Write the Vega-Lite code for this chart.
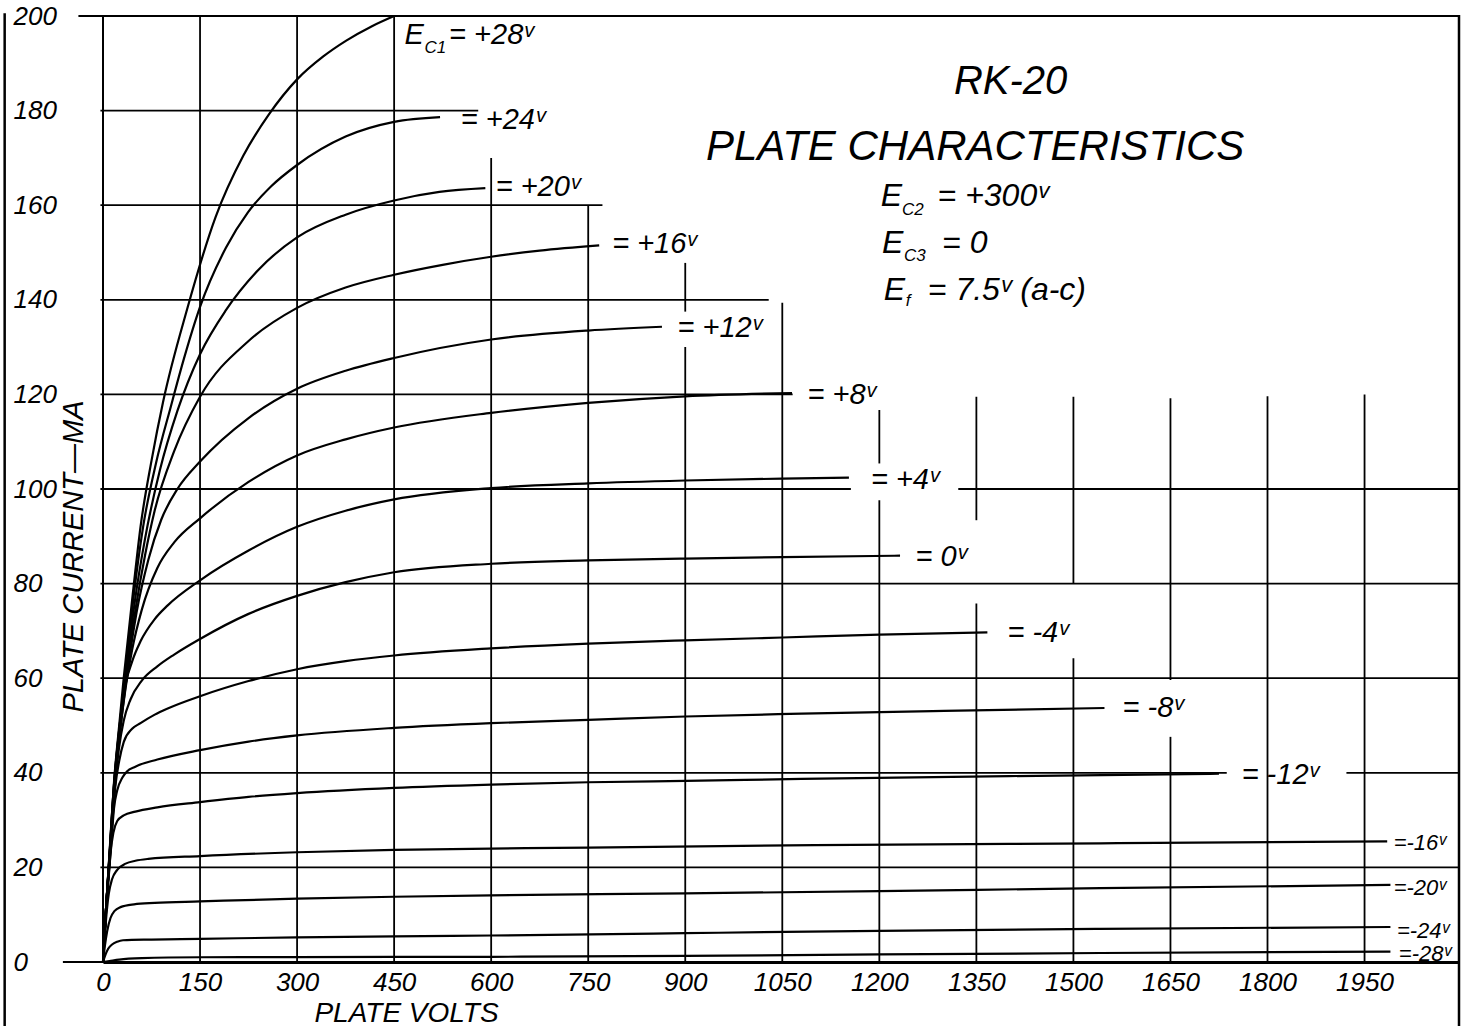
{
"$schema": "https://vega.github.io/schema/vega-lite/v6.json",
"width": 1356, "height": 946,
"autosize": {"type": "none"},
"padding": {"left": 103, "top": 16, "right": 9, "bottom": 64},
"background": "white",
"config": {"view": {"stroke": "black", "strokeWidth": 2}, "font": "Liberation Sans"},
"datasets": {
"hgrid": [
{"i":200,"v":-38,"v2":2096},{"i":180,"v":-4,"v2":580},{"i":160,"v":-4,"v2":772},{"i":140,"v":-4,"v2":1029},
{"i":120,"v":-4,"v2":1066},{"i":100,"v":-4,"v2":1156},{"i":100,"v":1322,"v2":2096},{"i":80,"v":-4,"v2":2096},
{"i":60,"v":-4,"v2":2096},{"i":40,"v":-4,"v2":1737},{"i":40,"v":1922,"v2":2096},{"i":20,"v":-4,"v2":2096},{"i":0,"v":-62,"v2":2096}
],
"vgrid": [
{"v":0,"i":0,"i2":200},{"v":150,"i":0,"i2":200},{"v":300,"i":0,"i2":200},{"v":450,"i":0,"i2":200},
{"v":600,"i":0,"i2":170},{"v":750,"i":0,"i2":160},{"v":900,"i":0,"i2":130},{"v":900,"i":137.5,"i2":147.8},
{"v":1050,"i":0,"i2":139.4},{"v":1200,"i":0,"i2":97.6},{"v":1200,"i":105.4,"i2":116.7},
{"v":1350,"i":0,"i2":75.8},{"v":1350,"i":93.4,"i2":119.5},{"v":1500,"i":0,"i2":64.2},{"v":1500,"i":80,"i2":119.5},
{"v":1650,"i":0,"i2":47.6},{"v":1650,"i":59.6,"i2":119.2},{"v":1800,"i":0,"i2":119.6},{"v":1950,"i":0,"i2":120}
],
"frame": [
{"v":-152,"i":200.6,"i2":-13.8},{"v":2096,"i":200.2,"i2":-13.8}
],
"curves": [
{"g":"+28","v":0,"i":0},{"g":"+28","v":5,"i":12},{"g":"+28","v":10,"i":23},{"g":"+28","v":17,"i":38},{"g":"+28","v":25,"i":50},{"g":"+28","v":32,"i":60},{"g":"+28","v":47,"i":79},{"g":"+28","v":58,"i":92},{"g":"+28","v":75,"i":106},{"g":"+28","v":93,"i":118.5},{"g":"+28","v":130,"i":138},{"g":"+28","v":174,"i":157.5},{"g":"+28","v":217,"i":170.5},{"g":"+28","v":257,"i":179.3},{"g":"+28","v":300,"i":186.6},{"g":"+28","v":340,"i":191.4},{"g":"+28","v":376,"i":194.8},{"g":"+28","v":415,"i":197.8},{"g":"+28","v":450,"i":200},
{"g":"+24","v":0,"i":0},{"g":"+24","v":5,"i":12},{"g":"+24","v":10,"i":22.5},{"g":"+24","v":17,"i":37.5},{"g":"+24","v":25,"i":49},{"g":"+24","v":33,"i":59},{"g":"+24","v":48,"i":78},{"g":"+24","v":62,"i":92},{"g":"+24","v":82,"i":105.5},{"g":"+24","v":105,"i":117.5},{"g":"+24","v":125,"i":127.5},{"g":"+24","v":150,"i":138.5},{"g":"+24","v":190,"i":151},{"g":"+24","v":224,"i":158.5},{"g":"+24","v":260,"i":164},{"g":"+24","v":300,"i":168.5},{"g":"+24","v":375,"i":174.5},{"g":"+24","v":450,"i":177.6},{"g":"+24","v":521,"i":178.6},
{"g":"+20","v":0,"i":0},{"g":"+20","v":5,"i":12},{"g":"+20","v":10,"i":22.5},{"g":"+20","v":17,"i":37.5},{"g":"+20","v":25,"i":49},{"g":"+20","v":34,"i":59.5},{"g":"+20","v":50,"i":77},{"g":"+20","v":65,"i":89.5},{"g":"+20","v":88,"i":104},{"g":"+20","v":115,"i":116.5},{"g":"+20","v":150,"i":128.5},{"g":"+20","v":190,"i":137.8},{"g":"+20","v":240,"i":146.3},{"g":"+20","v":300,"i":153.2},{"g":"+20","v":375,"i":158},{"g":"+20","v":450,"i":161},{"g":"+20","v":520,"i":162.8},{"g":"+20","v":591,"i":163.6},
{"g":"+16","v":0,"i":0},{"g":"+16","v":5,"i":12},{"g":"+16","v":10,"i":22},{"g":"+16","v":17,"i":37},{"g":"+16","v":26,"i":49.5},{"g":"+16","v":35,"i":59.5},{"g":"+16","v":52,"i":76},{"g":"+16","v":65,"i":86},{"g":"+16","v":80,"i":95.5},{"g":"+16","v":110,"i":108},{"g":"+16","v":150,"i":119.5},{"g":"+16","v":225,"i":131.3},{"g":"+16","v":300,"i":138.3},{"g":"+16","v":375,"i":142.6},{"g":"+16","v":450,"i":145.3},{"g":"+16","v":525,"i":147.4},{"g":"+16","v":600,"i":149.1},{"g":"+16","v":675,"i":150.4},{"g":"+16","v":767,"i":151.5},
{"g":"+12","v":0,"i":0},{"g":"+12","v":5,"i":12},{"g":"+12","v":10,"i":22},{"g":"+12","v":17,"i":36.5},{"g":"+12","v":26,"i":48.5},{"g":"+12","v":35,"i":58.5},{"g":"+12","v":52,"i":74},{"g":"+12","v":70,"i":85},{"g":"+12","v":90,"i":93.5},{"g":"+12","v":115,"i":100},{"g":"+12","v":150,"i":105.8},{"g":"+12","v":225,"i":115},{"g":"+12","v":300,"i":121.2},{"g":"+12","v":375,"i":125},{"g":"+12","v":450,"i":127.7},{"g":"+12","v":600,"i":131.6},{"g":"+12","v":750,"i":133.5},{"g":"+12","v":864,"i":134.3},
{"g":"+8","v":0,"i":0},{"g":"+8","v":5,"i":12},{"g":"+8","v":10,"i":22},{"g":"+8","v":18,"i":37.5},{"g":"+8","v":27,"i":49.5},{"g":"+8","v":35,"i":58},{"g":"+8","v":45,"i":66},{"g":"+8","v":60,"i":74.5},{"g":"+8","v":84,"i":83.3},{"g":"+8","v":110,"i":88.7},{"g":"+8","v":150,"i":93.8},{"g":"+8","v":225,"i":101.5},{"g":"+8","v":300,"i":107.1},{"g":"+8","v":375,"i":110.5},{"g":"+8","v":450,"i":113},{"g":"+8","v":600,"i":116.1},{"g":"+8","v":750,"i":118.2},{"g":"+8","v":900,"i":119.6},{"g":"+8","v":1065,"i":120.3},
{"g":"+4","v":0,"i":0},{"g":"+4","v":5,"i":12},{"g":"+4","v":10,"i":21.5},{"g":"+4","v":18,"i":36.5},{"g":"+4","v":25,"i":48},{"g":"+4","v":32,"i":56.5},{"g":"+4","v":45,"i":63.5},{"g":"+4","v":58,"i":67.8},{"g":"+4","v":80,"i":72.5},{"g":"+4","v":100,"i":75.4},{"g":"+4","v":150,"i":80.7},{"g":"+4","v":225,"i":87},{"g":"+4","v":300,"i":92},{"g":"+4","v":375,"i":95.4},{"g":"+4","v":450,"i":97.8},{"g":"+4","v":600,"i":100.2},{"g":"+4","v":750,"i":101.2},{"g":"+4","v":900,"i":101.8},{"g":"+4","v":1050,"i":102.2},{"g":"+4","v":1153,"i":102.4},
{"g":"0","v":0,"i":0},{"g":"0","v":5,"i":12},{"g":"0","v":10,"i":21.5},{"g":"0","v":17,"i":35},{"g":"0","v":24.5,"i":45},{"g":"0","v":32,"i":51},{"g":"0","v":42.5,"i":55.5},{"g":"0","v":60,"i":59.5},{"g":"0","v":84,"i":62.5},{"g":"0","v":110,"i":65},{"g":"0","v":150,"i":68.3},{"g":"0","v":225,"i":73.6},{"g":"0","v":300,"i":77.4},{"g":"0","v":375,"i":80.3},{"g":"0","v":450,"i":82.4},{"g":"0","v":600,"i":84.2},{"g":"0","v":750,"i":84.9},{"g":"0","v":900,"i":85.3},{"g":"0","v":1050,"i":85.6},{"g":"0","v":1232,"i":85.9},
{"g":"-4","v":0,"i":0},{"g":"-4","v":5,"i":12},{"g":"-4","v":10,"i":21},{"g":"-4","v":15,"i":30.5},{"g":"-4","v":19,"i":37},{"g":"-4","v":25,"i":42.5},{"g":"-4","v":32,"i":46.5},{"g":"-4","v":45,"i":49.3},{"g":"-4","v":58,"i":50.5},{"g":"-4","v":80,"i":52.3},{"g":"-4","v":100,"i":53.6},{"g":"-4","v":150,"i":56.2},{"g":"-4","v":225,"i":59.4},{"g":"-4","v":300,"i":61.9},{"g":"-4","v":375,"i":63.6},{"g":"-4","v":450,"i":64.8},{"g":"-4","v":600,"i":66.3},{"g":"-4","v":750,"i":67.3},{"g":"-4","v":900,"i":68},{"g":"-4","v":1050,"i":68.6},{"g":"-4","v":1200,"i":69.2},{"g":"-4","v":1367,"i":69.7},
{"g":"-8","v":0,"i":0},{"g":"-8","v":5,"i":11.5},{"g":"-8","v":10,"i":20},{"g":"-8","v":14,"i":27.5},{"g":"-8","v":17,"i":32.5},{"g":"-8","v":22,"i":36.3},{"g":"-8","v":30,"i":39},{"g":"-8","v":37,"i":40.3},{"g":"-8","v":50,"i":41.3},{"g":"-8","v":84,"i":42.8},{"g":"-8","v":150,"i":44.8},{"g":"-8","v":225,"i":46.6},{"g":"-8","v":300,"i":47.9},{"g":"-8","v":450,"i":49.5},{"g":"-8","v":600,"i":50.5},{"g":"-8","v":750,"i":51.2},{"g":"-8","v":900,"i":51.9},{"g":"-8","v":1080,"i":52.5},{"g":"-8","v":1300,"i":53.1},{"g":"-8","v":1548,"i":53.7},
{"g":"-12","v":0,"i":0},{"g":"-12","v":4,"i":9},{"g":"-12","v":8,"i":17},{"g":"-12","v":12,"i":23.5},{"g":"-12","v":16,"i":27.3},{"g":"-12","v":22,"i":29.8},{"g":"-12","v":32,"i":31},{"g":"-12","v":50,"i":31.8},{"g":"-12","v":84,"i":32.7},{"g":"-12","v":150,"i":33.8},{"g":"-12","v":225,"i":34.9},{"g":"-12","v":300,"i":35.7},{"g":"-12","v":450,"i":36.8},{"g":"-12","v":600,"i":37.5},{"g":"-12","v":750,"i":38},{"g":"-12","v":900,"i":38.3},{"g":"-12","v":1080,"i":38.7},{"g":"-12","v":1400,"i":39.3},{"g":"-12","v":1725,"i":39.8},
{"g":"-16","v":0,"i":0},{"g":"-16","v":3,"i":6},{"g":"-16","v":6,"i":11},{"g":"-16","v":9,"i":14.5},{"g":"-16","v":14,"i":17.5},{"g":"-16","v":22,"i":19.5},{"g":"-16","v":35,"i":20.8},{"g":"-16","v":50,"i":21.4},{"g":"-16","v":70,"i":21.8},{"g":"-16","v":150,"i":22.4},{"g":"-16","v":300,"i":23.2},{"g":"-16","v":450,"i":23.7},{"g":"-16","v":750,"i":24.2},{"g":"-16","v":1100,"i":24.7},{"g":"-16","v":1542,"i":25.1},{"g":"-16","v":1985,"i":25.5},
{"g":"-20","v":0,"i":0},{"g":"-20","v":3,"i":3.5},{"g":"-20","v":6.4,"i":6.5},{"g":"-20","v":11.6,"i":9.3},{"g":"-20","v":18,"i":10.8},{"g":"-20","v":27,"i":11.6},{"g":"-20","v":48,"i":12.2},{"g":"-20","v":80,"i":12.5},{"g":"-20","v":150,"i":12.8},{"g":"-20","v":300,"i":13.4},{"g":"-20","v":450,"i":13.8},{"g":"-20","v":600,"i":14.1},{"g":"-20","v":900,"i":14.5},{"g":"-20","v":1200,"i":15},{"g":"-20","v":1542,"i":15.6},{"g":"-20","v":1990,"i":16.3},
{"g":"-24","v":0,"i":0},{"g":"-24","v":4,"i":1.6},{"g":"-24","v":8,"i":2.8},{"g":"-24","v":14,"i":3.7},{"g":"-24","v":22,"i":4.3},{"g":"-24","v":31,"i":4.6},{"g":"-24","v":75,"i":4.75},{"g":"-24","v":150,"i":4.9},{"g":"-24","v":300,"i":5.2},{"g":"-24","v":450,"i":5.4},{"g":"-24","v":600,"i":5.6},{"g":"-24","v":900,"i":6.1},{"g":"-24","v":1200,"i":6.6},{"g":"-24","v":1542,"i":7},{"g":"-24","v":1990,"i":7.4},
{"g":"-28","v":0,"i":0},{"g":"-28","v":10,"i":0.2},{"g":"-28","v":25,"i":0.5},{"g":"-28","v":60,"i":0.8},{"g":"-28","v":150,"i":1},{"g":"-28","v":300,"i":1.05},{"g":"-28","v":600,"i":1.1},{"g":"-28","v":900,"i":1.3},{"g":"-28","v":1200,"i":1.6},{"g":"-28","v":1542,"i":1.9},{"g":"-28","v":1990,"i":2.2}
],
"lab": [
{"v":535,"i":196,"t":"= +28ᵛ"},{"v":553,"i":178.1,"t":"= +24ᵛ"},{"v":607,"i":163.9,"t":"= +20ᵛ"},
{"v":787,"i":151.9,"t":"= +16ᵛ"},{"v":888,"i":134,"t":"= +12ᵛ"},{"v":1089,"i":119.8,"t":"= +8ᵛ"},
{"v":1187,"i":101.9,"t":"= +4ᵛ"},{"v":1256,"i":85.7,"t":"= 0ᵛ"},{"v":1398,"i":69.5,"t":"= -4ᵛ"},
{"v":1576,"i":53.7,"t":"= -8ᵛ"},{"v":1760,"i":39.5,"t":"= -12ᵛ"},{"v":466,"i":196,"t":"E"}
],
"labsmall": [
{"v":1995,"i":25.2,"t":"=-16ᵛ"},{"v":1995,"i":15.6,"t":"=-20ᵛ"},{"v":2000,"i":6.6,"t":"=-24ᵛ"},{"v":2003,"i":1.7,"t":"=-28ᵛ"}
],
"subs": [
{"v":497,"i":193.3,"t":"C1"},{"v":1235,"i":159,"t":"C2"},{"v":1238,"i":149.3,"t":"C3"},{"v":1241,"i":139.7,"t":"f"}
],
"params": [
{"v":1202,"i":162,"t":"E"},{"v":1290,"i":162,"t":"= +300ᵛ"},
{"v":1204,"i":152,"t":"E"},{"v":1297,"i":152,"t":"= 0"},
{"v":1207,"i":142.1,"t":"E"},{"v":1275,"i":142.1,"t":"= 7.5ᵛ (a-c)"}
],
"titles": [
{"v":1403,"i":186.1,"t":"RK-20","s":"a"},{"v":1348,"i":172.3,"t":"PLATE CHARACTERISTICS","s":"b"}
]
},
"encoding": {
  "x": {"field": "v", "type": "quantitative", "scale": {"domain": [0, 2096], "nice": false, "zero": false},
        "axis": {"values": [0,150,300,450,600,750,900,1050,1200,1350,1500,1650,1800,1950], "format": "d", "grid": false,
                 "domain": true, "domainColor": "black", "domainWidth": 3, "ticks": false, "labelPadding": 7,
                 "labelFont": "Liberation Sans", "labelFontStyle": "italic", "labelFontSize": 26, "labelColor": "black",
                 "labelOverlap": false, "labelFlush": false,
                 "title": "PLATE VOLTS", "titleFont": "Liberation Sans", "titleFontStyle": "italic",
                 "titleFontWeight": "normal", "titleFontSize": 28, "titleColor": "black",
                 "titleX": 303, "titleY": 51, "titleAlign": "center", "titleBaseline": "middle"}},
  "y": {"field": "i", "type": "quantitative", "scale": {"domain": [0, 200], "nice": false, "zero": false},
        "axis": {"values": [0,20,40,60,80,100,120,140,160,180,200], "format": "d", "grid": false, "domain": false, "ticks": false,
                 "labelAlign": "left", "labelBaseline": "middle", "labelPadding": 90, "labelFont": "Liberation Sans",
                 "labelFontStyle": "italic", "labelFontSize": 26, "labelColor": "black",
                 "title": "PLATE CURRENT—MA", "titleFont": "Liberation Sans", "titleFontStyle": "italic",
                 "titleFontWeight": "normal", "titleFontSize": 29, "titleColor": "black", "titleAngle": -90,
                 "titleX": -30, "titleY": 540, "titleAlign": "center", "titleBaseline": "middle"}}
},
"layer": [
{"data": {"name": "hgrid"},
 "mark": {"type": "rule", "stroke": "black", "strokeWidth": 1.8},
 "encoding": {"x2": {"field": "v2"}}},
{"data": {"name": "vgrid"},
 "mark": {"type": "rule", "stroke": "black", "strokeWidth": 1.8},
 "encoding": {"y2": {"field": "i2"}}},
{"data": {"name": "frame"},
 "mark": {"type": "rule", "stroke": "black", "strokeWidth": 2.5, "clip": false},
 "encoding": {"y2": {"field": "i2"}}},
{"data": {"name": "curves"},
 "mark": {"type": "line", "stroke": "black", "strokeWidth": 2.2, "interpolate": "monotone"},
 "encoding": {"detail": {"field": "g", "type": "nominal"}}},
{"data": {"name": "lab"},
 "mark": {"type": "text", "align": "left", "baseline": "middle", "font": "Liberation Sans", "fontStyle": "italic", "fontSize": 29, "color": "black"},
 "encoding": {"text": {"field": "t", "type": "nominal"}}},
{"data": {"name": "labsmall"},
 "mark": {"type": "text", "align": "left", "baseline": "middle", "font": "Liberation Sans", "fontStyle": "italic", "fontSize": 22, "color": "black"},
 "encoding": {"text": {"field": "t", "type": "nominal"}}},
{"data": {"name": "subs"},
 "mark": {"type": "text", "align": "left", "baseline": "middle", "font": "Liberation Sans", "fontStyle": "italic", "fontSize": 17, "color": "black"},
 "encoding": {"text": {"field": "t", "type": "nominal"}}},
{"data": {"name": "params"},
 "mark": {"type": "text", "align": "left", "baseline": "middle", "font": "Liberation Sans", "fontStyle": "italic", "fontSize": 32, "color": "black"},
 "encoding": {"text": {"field": "t", "type": "nominal"}}},
{"data": {"name": "titles"},
 "transform": [{"filter": "datum.s == 'a'"}],
 "mark": {"type": "text", "align": "center", "baseline": "middle", "font": "Liberation Sans", "fontStyle": "italic", "fontSize": 40, "color": "black"},
 "encoding": {"text": {"field": "t", "type": "nominal"}}},
{"data": {"name": "titles"},
 "transform": [{"filter": "datum.s == 'b'"}],
 "mark": {"type": "text", "align": "center", "baseline": "middle", "font": "Liberation Sans", "fontStyle": "italic", "fontSize": 42, "color": "black"},
 "encoding": {"text": {"field": "t", "type": "nominal"}}}
]
}
